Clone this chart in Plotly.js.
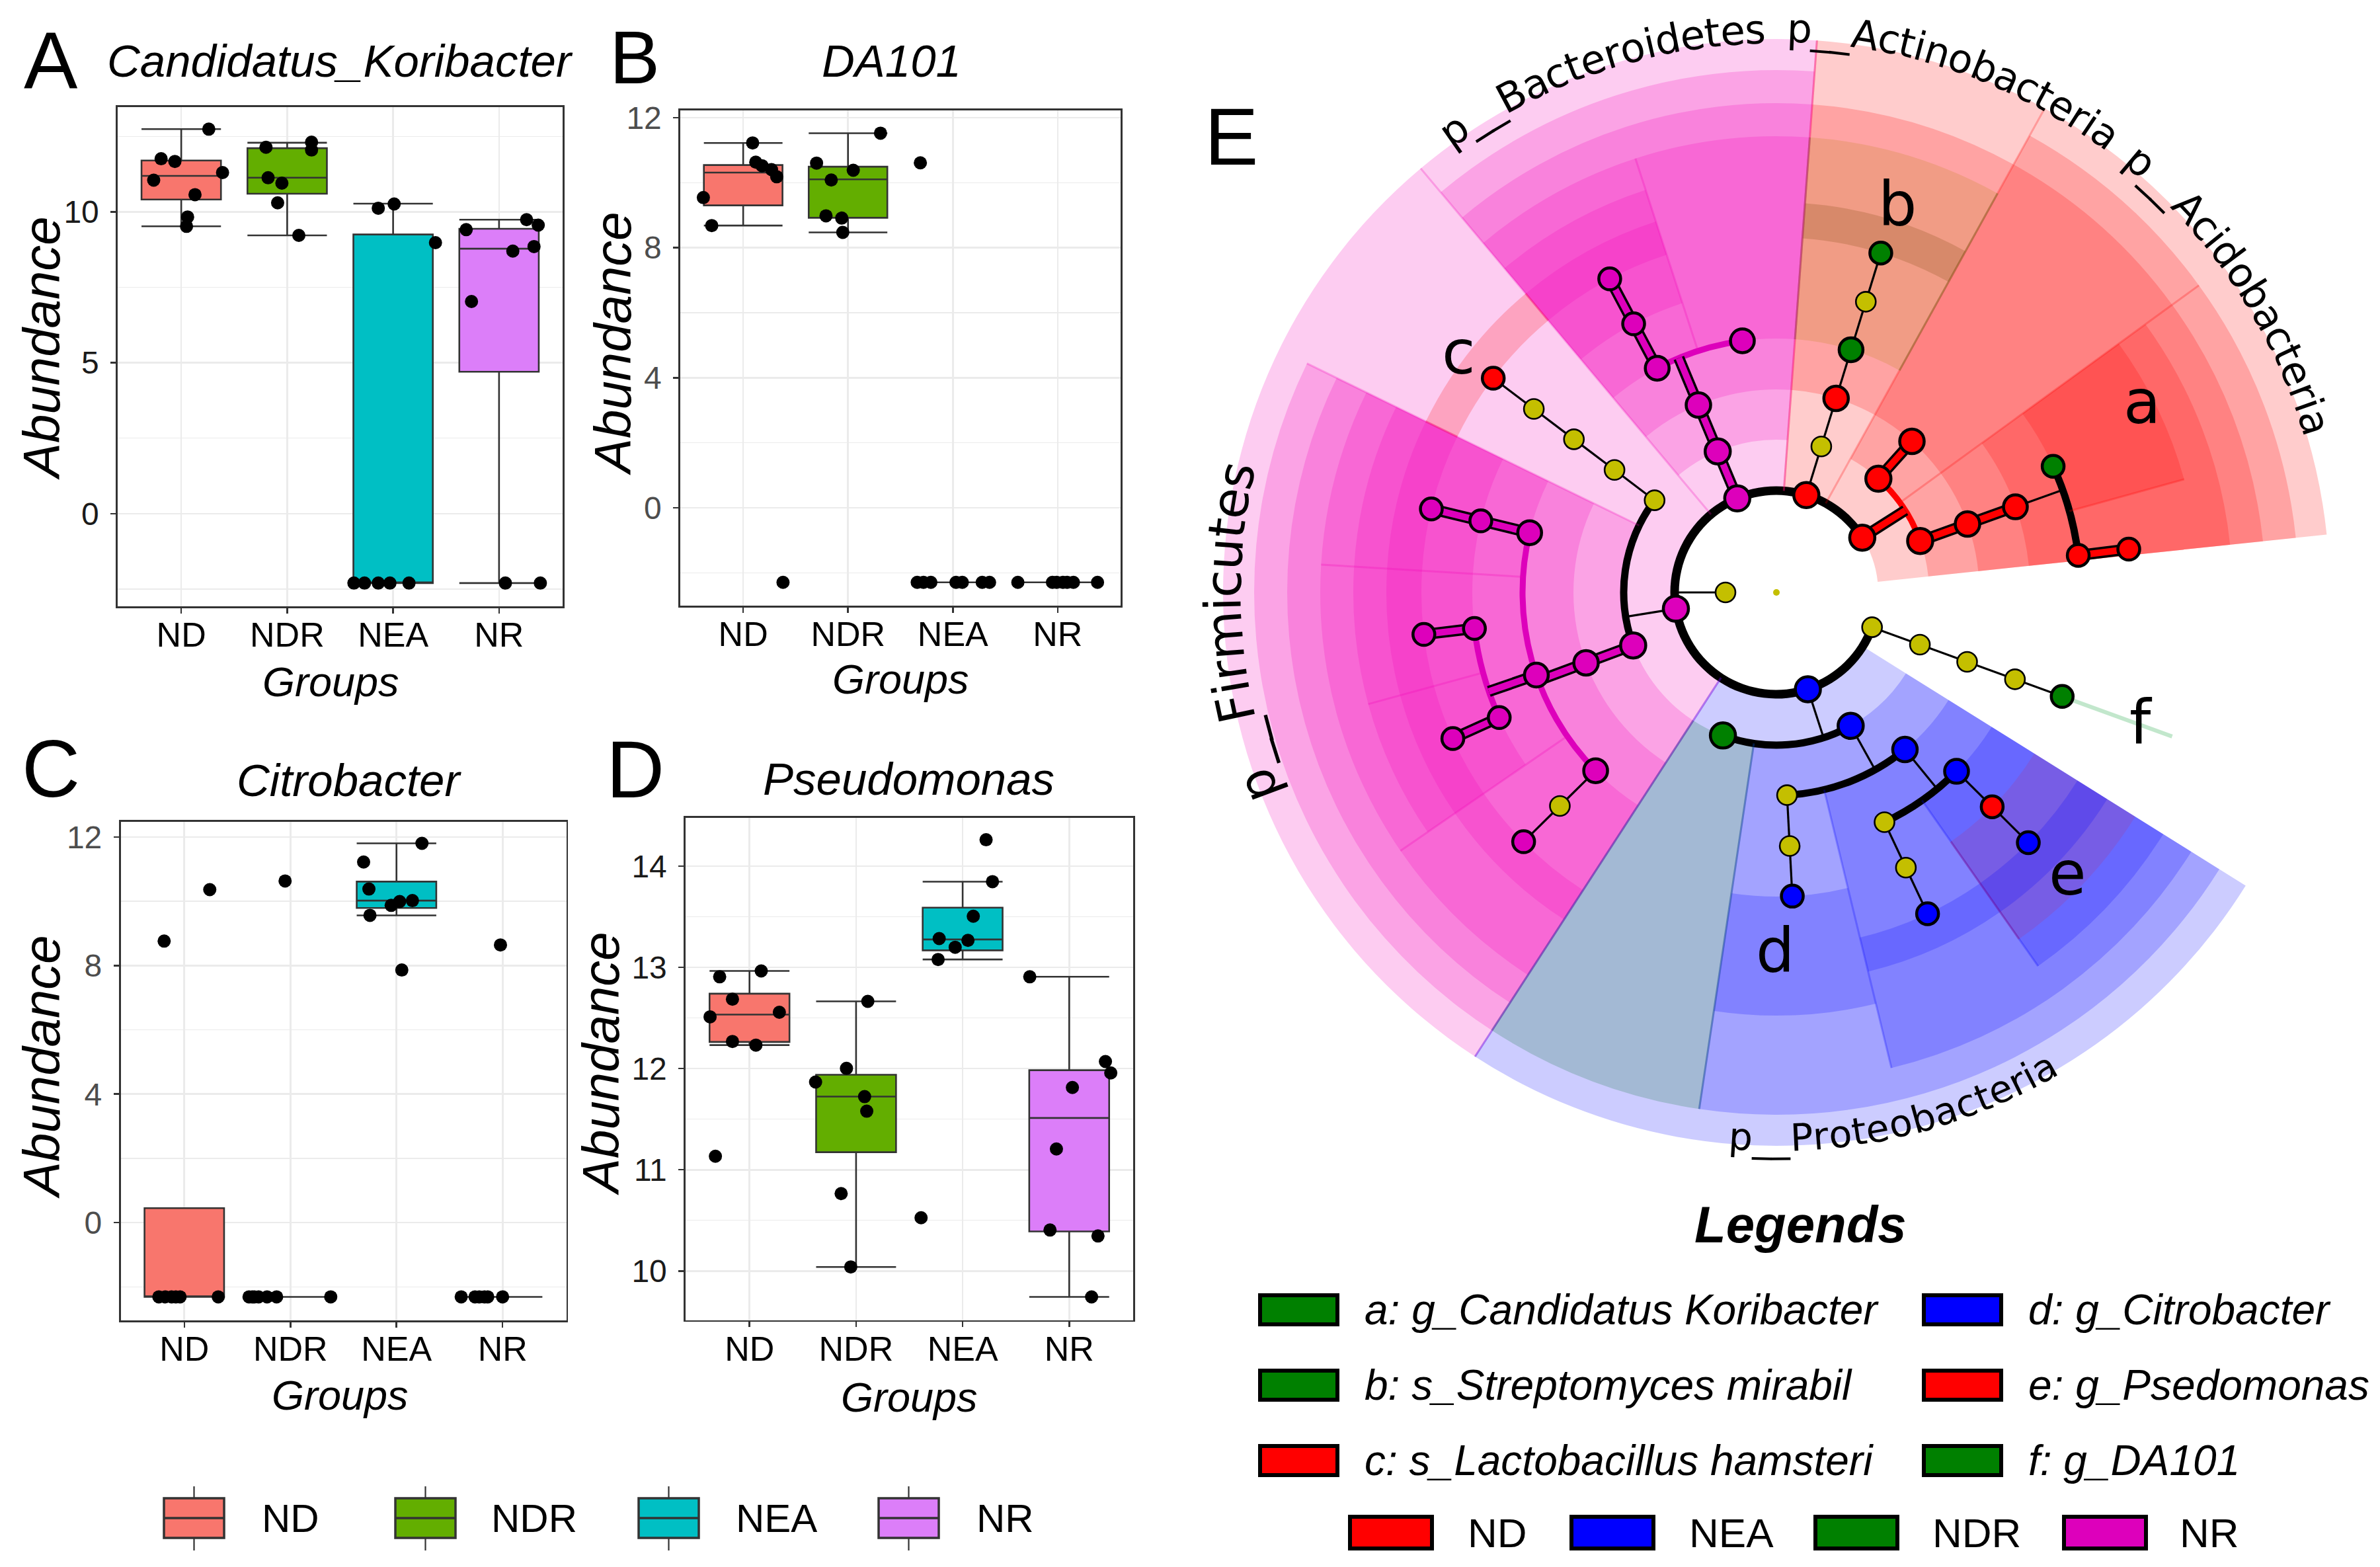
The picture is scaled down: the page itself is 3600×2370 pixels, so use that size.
<!DOCTYPE html>
<html><head><meta charset="utf-8">
<script src="https://cdn.plot.ly/plotly-3.0.1.min.js"></script>
<style>html,body{margin:0;padding:0;background:#fff;}#chart{width:3600px;height:2370px;}</style>
</head><body><div id="chart"></div>
<script>
// ---------------- DATA ----------------
const groups = ['ND','NDR','NEA','NR'];

// Panel A: Candidatus_Koribacter
const A_q1     = [10.41, 10.60, -2.30, 4.70];
const A_median = [11.19, 11.13, -2.30, 8.78];
const A_q3     = [11.70, 12.11, 9.25, 9.44];
const A_lower  = [9.52, 9.22, -2.30, -2.30];
const A_upper  = [12.74, 12.29, 10.27, 9.74];
const A_ptGroup  = [0,0,0,0,0,0,0,0, 1,1,1,1,1,1,1, 2,2,2,2,2,2,2,2, 3,3,3,3,3,3,3,3];
const A_ptJitter = [0.26,-0.19,-0.06,0.39,-0.26,0.13,0.06,0.05, -0.20,0.23,0.23,-0.18,-0.05,-0.09,0.11, -0.14,0.01,0.40,-0.37,-0.27,-0.14,-0.03,0.15, -0.31,0.26,0.37,0.13,0.33,-0.26,0.06,0.39];
const A_ptValue  = [12.74,11.76,11.67,11.30,11.05,10.57,9.83,9.52, 12.14,12.31,12.05,11.13,10.95,10.30,9.22, 10.12,10.26,8.98,-2.30,-2.30,-2.30,-2.30,-2.30, 9.41,9.74,9.56,8.70,8.85,7.03,-2.30,-2.30];

// Panel B: DA101
const B_q1     = [9.30, 8.92, -2.29, -2.29];
const B_median = [10.31, 10.10, -2.29, -2.29];
const B_q3     = [10.54, 10.49, -2.29, -2.29];
const B_lower  = [8.68, 8.47, -2.29, -2.29];
const B_upper  = [11.22, 11.52, -2.29, -2.29];
const B_ptGroup  = [0,0,0,0,0,0,0,0, 1,1,1,1,1,1,1, 2,2,2,2,2,2,2,2, 3,3,3,3,3,3,3];
const B_ptJitter = [0.09,0.12,0.18,0.27,0.32,-0.38,-0.30,0.38, 0.31,-0.30,0.05,-0.16,-0.21,-0.06,-0.05, -0.31,-0.34,-0.28,-0.21,0.03,0.09,0.28,0.35, -0.38,-0.05,-0.01,0.05,0.09,0.15,0.38];
const B_ptValue  = [11.22,10.63,10.52,10.40,10.18,9.54,8.68,-2.29, 11.52,10.60,10.38,10.08,8.98,8.91,8.47, 10.61,-2.29,-2.29,-2.29,-2.29,-2.29,-2.29,-2.29, -2.29,-2.29,-2.29,-2.29,-2.29,-2.29,-2.29];

// Panel C: Citrobacter
const C_q1     = [-2.31, -2.31, 9.79, -2.31];
const C_median = [-2.31, -2.31, 10.02, -2.31];
const C_q3     = [0.45, -2.31, 10.61, -2.31];
const C_lower  = [-2.31, -2.31, 9.56, -2.31];
const C_upper  = [0.45, -2.31, 11.80, -2.31];
const C_ptGroup  = [0,0,0,0,0,0,0,0, 1,1,1,1,1,1,1,1, 2,2,2,2,2,2,2,2, 3,3,3,3,3,3,3];
const C_ptJitter = [-0.19,0.24,-0.24,-0.18,-0.12,-0.08,-0.04,0.32, -0.05,-0.39,-0.34,-0.30,-0.22,-0.13,0.38,-0.36, 0.24,-0.31,-0.26,0.15,0.03,-0.05,-0.25,0.05, -0.02,-0.39,-0.26,-0.22,-0.17,-0.14,0.00];
const C_ptValue  = [8.76,10.36,-2.31,-2.31,-2.31,-2.31,-2.31,-2.31, 10.63,-2.31,-2.31,-2.31,-2.31,-2.31,-2.31,-2.31, 11.80,11.22,10.38,10.02,9.99,9.87,9.56,7.86, 8.64,-2.31,-2.31,-2.31,-2.31,-2.31,-2.31];

// Panel D: Pseudomonas
const D_q1     = [12.263, 11.174, 13.168, 10.391];
const D_median = [12.533, 11.723, 13.276, 11.512];
const D_q3     = [12.740, 11.939, 13.590, 11.984];
const D_lower  = [12.232, 10.040, 13.078, 9.744];
const D_upper  = [12.965, 12.664, 13.847, 12.907];
const D_ptGroup  = [0,0,0,0,0,0,0,0, 1,1,1,1,1,1,1, 2,2,2,2,2,2,2,2, 3,3,3,3,3,3,3,3];
const D_ptJitter = [0.11,-0.28,-0.16,-0.37,0.28,-0.16,0.06,-0.32, 0.11,-0.09,-0.38,0.08,0.10,-0.14,-0.05, 0.22,0.28,0.10,-0.22,0.05,-0.07,-0.23,-0.39, -0.37,0.34,0.39,0.03,-0.12,-0.18,0.27,0.21];
const D_ptValue  = [12.965,12.907,12.686,12.511,12.556,12.268,12.232,11.134, 12.664,12.002,11.867,11.723,11.579,10.765,10.040, 14.261,13.847,13.505,13.285,13.267,13.199,13.078,10.526, 12.907,12.070,11.957,11.813,11.206,10.405,10.346,9.744];

const panelTitles = ['Candidatus_Koribacter','DA101','Citrobacter','Pseudomonas'];
const panelLetters = ['A','B','C','D','E'];

// Cladogram (panel E): nodes (angle in degrees, taxonomic level, class, parent)
const nodeTheta  = [0,180, 32.5,72.9,112.6,189.2,288,340, 48.1,48.1,19.7,19.7,19.7,24.5,7.0,7.0,
  72.9,72.9,72.9,72.9,72.9, 112.6,112.6,118,118,118,97.7,
  142.9,142.9,142.9,142.9,142.9, 200.3,200.3,166.4,166.4,166.4,199.0,186.8,186.8,204.3,204.3,224.6,224.6,224.6,
  249.5,299.1,273,273,273,309.3,295.2,295.2,295.2,315.2,315.2,315.2, 340,340,340,340];
const nodeLevel  = [0,1, 2,2,2,2,2,2, 3,4,3,4,5,6,6,7,
  3,4,5,6,7, 3,4,5,6,7,5,
  3,4,5,6,7, 3,4,5,6,7,5,6,7,6,7,5,6,7,
  3,3,4,5,6,4,5,6,7,5,6,7, 3,4,5,6];
const nodeClass  = ['none','none', 'ND','ND','NR','NR','NEA','none', 'ND','ND','ND','ND','ND','NDR','ND','ND',
  'none','ND','NDR','none','NDR', 'NR','NR','NR','NR','NR','NR',
  'none','none','none','none','ND', 'NR','NR','NR','NR','NR','NR','NR','NR','NR','NR','NR','none','NR',
  'NDR','NEA','none','none','NEA','NEA','none','none','NEA','NEA','ND','NEA', 'none','none','none','NDR'];
const nodeParent = [-1,0, 1,1,1,1,1,1, 2,8,2,10,11,12,12,14,
  3,16,17,18,19, 4,21,22,23,24,22,
  5,27,28,29,30, 5,32,33,34,35,33,37,38,37,40,33,42,43,
  6,6,46,47,48,46,50,51,52,50,54,55, 7,57,58,59];

// highlighted clade sectors: angular range, level, class
const secFrom  = [6,36,36,6,6,6,15.5, 61,61,61,61, 85.8,85.8,85.8,108,85.8,108,108,
  130,130,154,154,154,176.5,214.5,154,176.5,195.3,154,176.5,195.3,214.5,
  237,237,261.5,283.6,305,261.5,305,283.6,305];
const secTo    = [61,61,61,36,36,36,36, 85.8,85.8,85.8,85.8, 130,130,130,130,108,130,130,
  237,154,237,237,176.5,214.5,237,176.5,195.3,214.5,176.5,195.3,214.5,237,
  328,261.5,328,328,328,283.6,328,305,328];
const secLevel = [2,3,4,3,4,5,6, 2,4,5,7, 2,3,4,5,5,6,7,
  2,7,3,4,5,5,5,6,6,6,7,7,7,7,
  2,3,3,4,5,6,6,7,7];
const secClass = ['ND','ND','ND','ND','ND','ND','ND', 'ND','ND','NDR','NDR', 'NR','NR','NR','NR','NR','NR','NR',
  'NR','ND','NR','NR','NR','NR','NR','NR','NR','NR','NR','NR','NR','NR',
  'NEA','NDR','NEA','NEA','NEA','NEA','ND','NEA','NEA'];

const phylumLabels = ['p__Bacteroidetes','p__Actinobacteria','p__Acidobacteria','p__Firmicutes','p__Proteobacteria'];
const cladeLetters = ['a','b','c','d','e','f'];
const cladeLetterTheta = [27.5,72.7,143,269.8,316,340.3];
const cladeLetterR     = [623,614,602,542,612,586];
const legendEntries = ['a: g_Candidatus Koribacter','b: s_Streptomyces mirabil','c: s_Lactobacillus hamsteri',
                       'd: g_Citrobacter','e: g_Psedomonas','f: g_DA101'];
const legendEntryClass = ['NDR','NDR','ND','NEA','ND','NDR'];
const cladeClasses = ['ND','NEA','NDR','NR'];

// ---------------- STYLE ----------------
const W = 3600, H = 2370;
const X = px => px / W, Y = py => 1 - py / H;
const boxFill = {ND:'#F8766D', NDR:'#63AE00', NEA:'#00BFC4', NR:'#DC7EF9'};
const shadeRGB = {ND:[255,0,0], NDR:[0,128,0], NEA:[0,0,255], NR:[245,0,185]};
const nodeColor = {ND:'#ff0000', NDR:'#008000', NEA:'#0000ff', NR:'#dd00bb', none:'#c4bf00'};
const rgba = (c,a) => 'rgba(' + shadeRGB[c].join(',') + ',' + a + ')';
// per-sector shading overrides (index -> colour) to match the printed tints
const shadeOverride = {9:'rgba(185,128,13,0.2)', 10:'rgba(116,66,0,0.2)', 33:'rgba(0,110,40,0.2)', 38:'rgba(255,0,0,0.1)'};
const freeEdges = [6, 328];   // outer sector edges without a neighbouring sector (no seam)
const SANS = 'Liberation Sans, Arial, sans-serif';
const DJ = 'DejaVu Sans, sans-serif';

const traces = [];
const annotations = [];
const shapes = [];

// ---------- box panels ----------
const panels = [
  {q1:A_q1, med:A_median, q3:A_q3, lo:A_lower, hi:A_upper, pg:A_ptGroup, pj:A_ptJitter, pv:A_ptValue, xa:'x', ya:'y'},
  {q1:B_q1, med:B_median, q3:B_q3, lo:B_lower, hi:B_upper, pg:B_ptGroup, pj:B_ptJitter, pv:B_ptValue, xa:'x2', ya:'y2'},
  {q1:C_q1, med:C_median, q3:C_q3, lo:C_lower, hi:C_upper, pg:C_ptGroup, pj:C_ptJitter, pv:C_ptValue, xa:'x3', ya:'y3'},
  {q1:D_q1, med:D_median, q3:D_q3, lo:D_lower, hi:D_upper, pg:D_ptGroup, pj:D_ptJitter, pv:D_ptValue, xa:'x4', ya:'y4'}
];
panels.forEach(p => {
  groups.forEach((g, gi) => {
    traces.push({type:'box', orientation:'v', xaxis:p.xa, yaxis:p.ya, x:[gi+1],
      q1:[p.q1[gi]], median:[p.med[gi]], q3:[p.q3[gi]], lowerfence:[p.lo[gi]], upperfence:[p.hi[gi]],
      width:0.75, whiskerwidth:1, fillcolor:boxFill[g], line:{color:'#333333', width:2.6},
      boxpoints:false, hoverinfo:'skip', showlegend:false});
  });
  traces.push({type:'scatter', mode:'markers', xaxis:p.xa, yaxis:p.ya,
    x:p.pg.map((g,i) => g + 1 + p.pj[i]), y:p.pv,
    marker:{color:'#000', size:20, opacity:1}, hoverinfo:'skip', showlegend:false});
});

// panel geometry (pixel boxes)
const geo = [
  {x0:178, x1:851, y0:162, y1:917, yr:[-3.07,13.47], dt:5, mdt:2.5, tc:'#1a1a1a'},
  {x0:1029, x1:1695, y0:167, y1:916, yr:[-3.006,12.22], dt:4, mdt:2, tc:'#4d4d4d'},
  {x0:182.5, x1:856.5, y0:1242.5, y1:1997.4, yr:[-3.05,12.48], dt:4, mdt:2, tc:'#4d4d4d'},
  {x0:1037, x1:1714, y0:1237, y1:1996.7, yr:[9.514,14.477], dt:1, mdt:0.5, tc:'#1a1a1a'}
];
const layout = {
  width:W, height:H, margin:{l:0,r:0,t:0,b:0}, paper_bgcolor:'#fff', plot_bgcolor:'#fff',
  showlegend:false, boxmode:'overlay'
};
geo.forEach((g, i) => {
  const sx = i === 0 ? '' : String(i+1);
  layout['xaxis'+sx] = {domain:[X(g.x0), X(g.x1)], anchor:'y'+sx, range:[0.4,4.6],
    tickmode:'array', tickvals:[1,2,3,4], ticktext:groups,
    tickfont:{family:SANS, size:52, color:'#000'}, ticklabelstandoff:-12,
    showgrid:true, gridcolor:'#ebebeb', gridwidth:2.6, zeroline:false,
    ticks:'outside', ticklen:8, tickwidth:2.5, tickcolor:'#333',
    showline:true, mirror:true, linecolor:'#333', linewidth:2.6, fixedrange:true};
  layout['yaxis'+sx] = {domain:[Y(g.y1), Y(g.y0)], anchor:'x'+sx, range:g.yr,
    tickmode:'linear', tick0:0, dtick:g.dt,
    minor:{dtick:g.mdt, tick0:0, showgrid:true, gridcolor:'#ebebeb', gridwidth:1.3, ticks:''},
    tickfont:{family:SANS, size:48, color:g.tc}, ticklabelstandoff:8,
    showgrid:true, gridcolor:'#ebebeb', gridwidth:2.6, zeroline:false,
    ticks:'outside', ticklen:8, tickwidth:2.5, tickcolor:'#333',
    showline:true, mirror:true, linecolor:'#333', linewidth:2.6, fixedrange:true};
});

// panel texts
const titlePos = [[514,92],[1348,92],[528,1180],[1374,1178]];
const letterPos = [[77,92],[960,86],[77,1163],[961,1164],[1863,207]];
const letterSize = [122,114,122,122,122];
const yTitlePos = [[63,527],[927,520],[63,1614],[909,1609]];
const xTitlePos = [[500,1031],[1362,1027],[514,2110],[1375,2113]];
panelTitles.forEach((t,i) => {
  annotations.push({text:'<i>'+t+'</i>', x:X(titlePos[i][0]), y:Y(titlePos[i][1]), xref:'paper', yref:'paper',
    showarrow:false, xanchor:'center', yanchor:'middle', borderpad:0, font:{family:SANS, size:69, color:'#000'}});
  annotations.push({text:'<i>Abundance</i>', x:X(yTitlePos[i][0]), y:Y(yTitlePos[i][1]), xref:'paper', yref:'paper',
    showarrow:false, xanchor:'center', yanchor:'middle', textangle:-90, font:{family:SANS, size:78, color:'#000'}});
  annotations.push({text:'<i>Groups</i>', x:X(xTitlePos[i][0]), y:Y(xTitlePos[i][1]), xref:'paper', yref:'paper',
    showarrow:false, xanchor:'center', yanchor:'middle', borderpad:0, font:{family:SANS, size:63, color:'#000'}});
});
panelLetters.forEach((t,i) => {
  annotations.push({text:t, x:X(letterPos[i][0]), y:Y(letterPos[i][1]), xref:'paper', yref:'paper',
    showarrow:false, xanchor:'center', yanchor:'middle', borderpad:0, font:{family:SANS, size:letterSize[i], color:'#000'}});
});

// bottom-left box legend
const keyX = [248, 598, 966, 1329];
const keyTextX = [394, 741, 1111, 1475];
groups.forEach((g,i) => {
  const x0 = keyX[i], x1 = keyX[i] + 91, xc = (x0 + x1) / 2;
  shapes.push({type:'line', xref:'paper', yref:'paper', x0:X(xc), x1:X(xc), y0:Y(2248), y1:Y(2345), line:{color:'#333', width:2.2}});
  shapes.push({type:'rect', xref:'paper', yref:'paper', x0:X(x0), x1:X(x1), y0:Y(2326), y1:Y(2266), fillcolor:boxFill[g], line:{color:'#333', width:3.5}});
  shapes.push({type:'line', xref:'paper', yref:'paper', x0:X(x0), x1:X(x1), y0:Y(2296), y1:Y(2296), line:{color:'#333', width:3.5}});
  annotations.push({text:g, x:X(keyTextX[i]), y:Y(2296), xref:'paper', yref:'paper', showarrow:false,
    xanchor:'left', yanchor:'middle', font:{family:SANS, size:60, color:'#000'}});
});

// ---------- cladogram (polar) ----------
const LR = [0,77,154,231,307,384,460,537];
const ROUT = {2:837, 3:790, 4:740, 5:690, 6:640, 7:590};
const RMAX = 896;

// sectors + faint seams where neighbouring sectors meet
const seamTraces = [];
{
  const t=[], w=[], b=[], r=[], c=[];
  const seams = {};
  secFrom.forEach((f,k) => {
    const lv = secLevel[k], to = secTo[k];
    t.push((f + to) / 2); w.push(to - f);
    b.push(LR[lv]); r.push(ROUT[lv] - LR[lv]);
    c.push(shadeOverride[k] || rgba(secClass[k], 0.2));
    [f, to].forEach(a => {
      if (freeEdges.includes(a)) return;
      const key = secClass[k] + '|' + a;
      const s = seams[key] || {cls:secClass[k], a:a, lo:LR[lv], hi:ROUT[lv]};
      s.lo = Math.min(s.lo, LR[lv]); s.hi = Math.max(s.hi, ROUT[lv]);
      seams[key] = s;
    });
  });
  traces.push({type:'barpolar', subplot:'polar', theta:t, width:w, base:b, r:r,
    marker:{color:c, line:{width:0}}, hoverinfo:'skip', showlegend:false});
  const byCls = {};
  Object.values(seams).forEach(s => {
    byCls[s.cls] = byCls[s.cls] || {r:[], theta:[]};
    byCls[s.cls].r.push(s.lo, s.hi, null); byCls[s.cls].theta.push(s.a, s.a, null);
  });
  Object.keys(byCls).forEach(cls => seamTraces.push({type:'scatterpolar', subplot:'polar', mode:'lines',
    r:byCls[cls].r, theta:byCls[cls].theta, connectgaps:false,
    line:{color:rgba(cls, 0.25), width:3}, hoverinfo:'skip', showlegend:false}));
}

// tree branches
const hlSet = new Set([2,4,8,10,11,14,21,22,23,24,32,33,34,35,37,38,40]);
const colorArcSet = new Set([2,22,33,37]);
const children = nodeTheta.map(() => []);
nodeParent.forEach((p,i) => { if (p >= 0) children[p].push(i); });
const arcT=[], arcW=[], arcB=[], arcR=[], arcC=[];
const thin = {r:[], theta:[]}, hlB = {r:[], theta:[]}, hlC = {};
children.forEach((ch, i) => {
  if (i === 0 || ch.length === 0) return;
  const lv = nodeLevel[i], r1 = LR[lv], r2 = LR[lv+1], th = nodeTheta[i];
  if (hlSet.has(i)) {
    hlB.r.push(r1, r2, null); hlB.theta.push(th, th, null);
    const c = nodeClass[i];
    hlC[c] = hlC[c] || {r:[], theta:[]};
    hlC[c].r.push(r1, r2, null); hlC[c].theta.push(th, th, null);
  } else {
    thin.r.push(r1, r2, null); thin.theta.push(th, th, null);
  }
  const angs = [th].concat(ch.map(k => nodeTheta[k]));
  const amin = Math.min(...angs), amax = Math.max(...angs);
  if (amax - amin > 0.5) {
    const isCol = colorArcSet.has(i);
    const tk = i === 1 ? 13 : (isCol ? 9 : 11);
    arcT.push((amin + amax) / 2); arcW.push(amax - amin);
    arcB.push(r2 - tk / 2); arcR.push(tk);
    arcC.push(isCol ? nodeColor[nodeClass[i]] : '#000');
  }
});
traces.push({type:'barpolar', subplot:'polar', theta:arcT, width:arcW, base:arcB, r:arcR,
  marker:{color:arcC, line:{width:0}}, hoverinfo:'skip', showlegend:false});
seamTraces.forEach(s => traces.push(s));

// extension of f
traces.push({type:'scatterpolar', subplot:'polar', mode:'lines', r:[LR[6], 637], theta:[340, 340],
  line:{color:'rgba(80,185,110,0.35)', width:6}, hoverinfo:'skip', showlegend:false});
traces.push({type:'scatterpolar', subplot:'polar', mode:'lines', r:thin.r, theta:thin.theta,
  line:{color:'#000', width:3.2}, connectgaps:false, hoverinfo:'skip', showlegend:false});
traces.push({type:'scatterpolar', subplot:'polar', mode:'lines', r:hlB.r, theta:hlB.theta,
  line:{color:'#000', width:17}, connectgaps:false, hoverinfo:'skip', showlegend:false});
Object.keys(hlC).forEach(c => {
  traces.push({type:'scatterpolar', subplot:'polar', mode:'lines', r:hlC[c].r, theta:hlC[c].theta,
    line:{color:nodeColor[c], width:10}, connectgaps:false, hoverinfo:'skip', showlegend:false});
});

// nodes
{
  const idx = nodeTheta.map((_,i) => i).filter(i => i > 0);
  const size = i => {
    if (nodeClass[i] === 'none') return 30;
    const lv = nodeLevel[i];
    return lv <= 3 ? 38 : (lv === 4 ? 37 : (lv === 5 ? 36 : 33));
  };
  traces.push({type:'scatterpolar', subplot:'polar', mode:'markers',
    r:idx.map(i => LR[nodeLevel[i]]), theta:idx.map(i => nodeTheta[i]),
    marker:{color:idx.map(i => nodeColor[nodeClass[i]]), size:idx.map(size), opacity:1,
      line:{color:'#000', width:idx.map(i => nodeClass[i] === 'none' ? 2.6 : 4.5)}},
    hoverinfo:'skip', showlegend:false});
  traces.push({type:'scatterpolar', subplot:'polar', mode:'markers', r:[0], theta:[0],
    marker:{color:nodeColor.none, size:10, opacity:1, line:{width:0}}, hoverinfo:'skip', showlegend:false});
}

layout.polar = {
  domain:{x:[X(2687-RMAX), X(2687+RMAX)], y:[Y(896+RMAX), Y(896-RMAX)]},
  bgcolor:'rgba(0,0,0,0)', barmode:'overlay', bargap:0, hole:0,
  radialaxis:{visible:false, range:[0, RMAX]},
  angularaxis:{visible:false, rotation:0, direction:'counterclockwise'}
};
// overlay cartesian frame sharing the cladogram's centre and scale (for labels)
layout.xaxis5 = {domain:layout.polar.domain.x, anchor:'y5', range:[-RMAX, RMAX], visible:false, fixedrange:true};
layout.yaxis5 = {domain:layout.polar.domain.y, anchor:'x5', range:[-RMAX, RMAX], visible:false, fixedrange:true};
traces.push({type:'scatter', xaxis:'x5', yaxis:'y5', x:[0], y:[0], mode:'markers', marker:{opacity:0}, hoverinfo:'skip', showlegend:false});

// curved phylum labels
const DJW = {p:.635,_:.5,B:.686,a:.613,c:.55,t:.392,e:.615,r:.411,o:.612,i:.278,d:.635,s:.521,A:.684,n:.634,b:.635,F:.575,m:.974,u:.634,P:.603};
function arcText(txt, start, rBase, size, dir) {
  const rc = rBase + dir * 0.30 * size;
  let s = 0;
  for (const ch of txt) {
    const w = (DJW[ch] || 0.6) * size;
    const th = start - dir * (s + w / 2) / rc * 180 / Math.PI;
    const rad = th * Math.PI / 180;
    let ang = dir > 0 ? 90 - th : -90 - th;
    ang = ((ang + 180) % 360 + 360) % 360 - 180;
    annotations.push({text:ch, x:rc * Math.cos(rad), y:rc * Math.sin(rad), xref:'x5', yref:'y5',
      showarrow:false, textangle:ang, xanchor:'center', yanchor:'middle', borderpad:0,
      font:{family:DJ, size:size, color:'#000'}});
    s += w;
  }
}
const labelSpec = [[126.2, 834, 61, 1], [88.9, 836, 60, 1], [51.1, 836, 61, 1], [202.1, 814, 76, 1], [265, 842, 57, -1]];
phylumLabels.forEach((t,i) => arcText(t, labelSpec[i][0], labelSpec[i][1], labelSpec[i][2], labelSpec[i][3]));

cladeLetters.forEach((t,i) => {
  const rad = cladeLetterTheta[i] * Math.PI / 180;
  annotations.push({text:t, x:cladeLetterR[i] * Math.cos(rad), y:cladeLetterR[i] * Math.sin(rad), xref:'x5', yref:'y5',
    showarrow:false, xanchor:'center', yanchor:'middle', borderpad:0, font:{family:DJ, size:92, color:'#000'}});
});

// cladogram legend
annotations.push({text:'<b><i>Legends</i></b>', x:X(2723), y:Y(1852), xref:'paper', yref:'paper', showarrow:false,
  xanchor:'center', yanchor:'middle', font:{family:SANS, size:78, color:'#000'}});
const legColBox = [1906, 2910], legColText = [2062, 3066], legRowY = [1981, 2095, 2209];
legendEntries.forEach((t,i) => {
  const col = Math.floor(i / 3), row = i % 3;
  const y = legRowY[row];
  shapes.push({type:'rect', xref:'paper', yref:'paper', x0:X(legColBox[col]), x1:X(legColBox[col] + 117),
    y0:Y(y + 22), y1:Y(y - 22), fillcolor:nodeColor[legendEntryClass[i]], line:{color:'#000', width:6}});
  annotations.push({text:'<i>' + t + '</i>', x:X(legColText[col]), y:Y(y), xref:'paper', yref:'paper', showarrow:false,
    xanchor:'left', yanchor:'middle', font:{family:SANS, size:64, color:'#000'}});
});
const clsBoxX = [2042, 2377, 2746, 3122], clsTextX = [2218, 2553, 2921, 3295];
cladeClasses.forEach((c,i) => {
  shapes.push({type:'rect', xref:'paper', yref:'paper', x0:X(clsBoxX[i]), x1:X(clsBoxX[i] + 124),
    y0:Y(2318 + 24), y1:Y(2318 - 24), fillcolor:nodeColor[c], line:{color:'#000', width:6}});
  annotations.push({text:c, x:X(clsTextX[i]), y:Y(2318), xref:'paper', yref:'paper', showarrow:false,
    xanchor:'left', yanchor:'middle', font:{family:SANS, size:62, color:'#000'}});
});

layout.annotations = annotations;
layout.shapes = shapes;
Plotly.newPlot('chart', traces, layout, {staticPlot:true, displayModeBar:false});
</script>
</body></html>
